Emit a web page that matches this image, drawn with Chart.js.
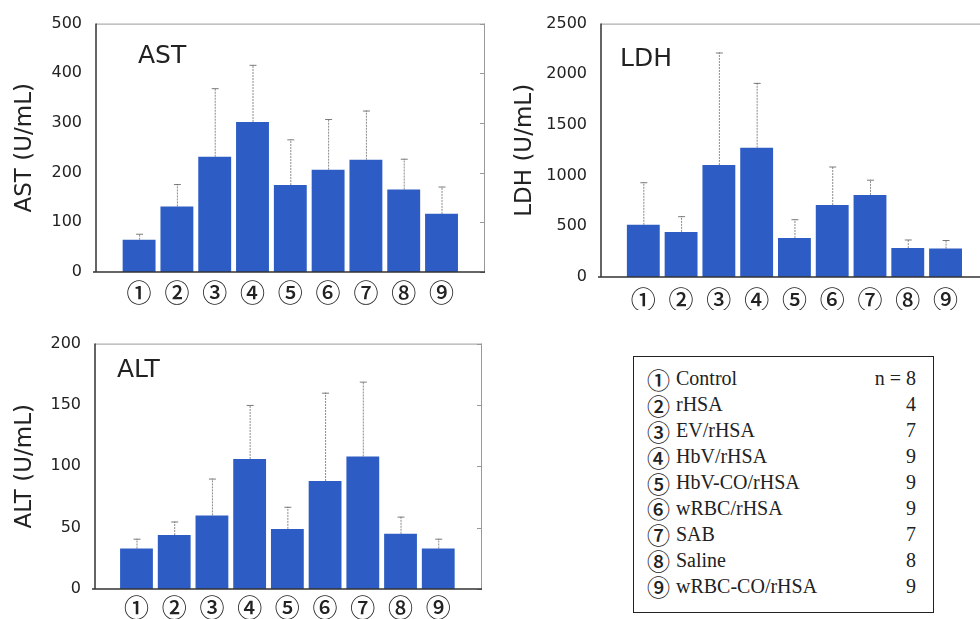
<!DOCTYPE html>
<html>
<head>
<meta charset="utf-8">
<script src="https://cdn.jsdelivr.net/npm/chart.js@4.4.1/dist/chart.umd.min.js"></script>
<style>
  html, body { margin: 0; padding: 0; background: #fff; width: 980px; height: 619px; overflow: hidden; }
  .box { position: absolute; }
  #legend {
    position: absolute; left: 633px; top: 356px; width: 299px; height: 246px;
    border: 1.5px solid #222; box-sizing: content-box;
    font-family: "Liberation Serif", "Times New Roman", serif; font-size: 20px; color: #222;
    padding-top: 9px;
  }
  #legend .row { display: flex; align-items: center; height: 25.9px; padding: 0 17px 0 13px; }
  #legend .c { font-family: "Noto Sans CJK JP", "DejaVu Sans", sans-serif; font-weight: 500; font-size: 23px; width: 29px; line-height: 24px; }
  #legend .name { flex: 1; }
  #legend .n { text-align: right; }
</style>
</head>
<body>
<div class="box" style="left:0;top:0;width:500px;height:310px"><canvas id="ast"></canvas></div>
<div class="box" style="left:500px;top:0;width:500px;height:310px"><canvas id="ldh"></canvas></div>
<div class="box" style="left:0;top:320px;width:500px;height:299px"><canvas id="alt"></canvas></div>
<div id="legend"></div>

<script>
// groups ①..⑨
const categories = ['①', '②', '③', '④', '⑤', '⑥', '⑦', '⑧', '⑨'];
const groupNames = ['Control', 'rHSA', 'EV/rHSA', 'HbV/rHSA', 'HbV-CO/rHSA', 'wRBC/rHSA', 'SAB', 'Saline', 'wRBC-CO/rHSA'];
const groupN = ['n = 8', '4', '7', '9', '9', '9', '7', '8', '9'];

// mean and SD
const astMean = [65, 132, 232, 302, 175, 206, 226, 166, 117];
const astSD   = [12, 45, 138, 115, 92, 102, 99, 62, 55];
const astTicks = [0, 100, 200, 300, 400, 500];

const ldhMean = [515, 445, 1105, 1275, 385, 710, 810, 285, 280];
const ldhSD   = [420, 155, 1110, 640, 185, 380, 150, 85, 85];
const ldhTicks = [0, 500, 1000, 1500, 2000, 2500];

const altMean = [33, 44, 60, 106, 49, 88, 108, 45, 33];
const altSD   = [8, 11, 30, 44, 18, 72, 61, 14, 8];
const altTicks = [0, 50, 100, 150, 200];

// legend box
const legend = document.getElementById('legend');
categories.forEach((c, i) => {
  const row = document.createElement('div');
  row.className = 'row';
  row.innerHTML = `<span class="c">${c}</span><span class="name">${groupNames[i]}</span><span class="n">${groupN[i]}</span>`;
  legend.appendChild(row);
});

// upper error bars (mean + SD)
const errorBars = {
  id: 'errorBars',
  afterDatasetsDraw(chart) {
    const ctx = chart.ctx;
    const y = chart.scales.y;
    const sd = chart.options.plugins.errorBars.sd;
    const meta = chart.getDatasetMeta(0);
    ctx.save();
    meta.data.forEach((bar, i) => {
      const top = y.getPixelForValue(chart.data.datasets[0].data[i].y + sd[i]);
      ctx.strokeStyle = 'rgba(110,110,110,0.8)';
      ctx.lineWidth = 1;
      ctx.setLineDash([2, 1]);
      ctx.beginPath();
      ctx.moveTo(bar.x + 0.5, bar.y);
      ctx.lineTo(bar.x + 0.5, top);
      ctx.stroke();
      ctx.setLineDash([]);
      ctx.strokeStyle = 'rgba(90,90,90,0.8)';
      ctx.beginPath();
      ctx.moveTo(bar.x - 3, top + 0.5);
      ctx.lineTo(bar.x + 4, top + 0.5);
      ctx.stroke();
    });
    ctx.restore();
  }
};

// box frame, inward ticks on right, panel name inside
const frame = {
  id: 'frame',
  afterDraw(chart) {
    const {ctx, chartArea: a} = chart;
    const o = chart.options.plugins.frame;
    ctx.save();
    ctx.strokeStyle = '#999';
    ctx.lineWidth = 1;
    ctx.beginPath();
    ctx.moveTo(a.left, a.top + 0.5);
    ctx.lineTo(a.right, a.top + 0.5);
    ctx.moveTo(a.right - 0.5, a.top);
    ctx.lineTo(a.right - 0.5, a.bottom);
    chart.scales.y.ticks.forEach(t => {
      const py = Math.round(chart.scales.y.getPixelForValue(t.value)) + 0.5;
      ctx.moveTo(a.right, py);
      ctx.lineTo(a.right - 5, py);
    });
    ctx.stroke();
    ctx.strokeStyle = '#333';
    ctx.lineWidth = 1.5;
    ctx.beginPath();
    ctx.moveTo(a.left, a.top);
    ctx.lineTo(a.left, a.bottom);
    ctx.moveTo(a.left - 3, a.bottom);
    ctx.lineTo(a.right, a.bottom);
    ctx.stroke();
    ctx.fillStyle = '#222';
    ctx.font = '25px "DejaVu Sans"';
    ctx.textBaseline = 'middle';
    ctx.fillText(o.label, a.left + o.dx, a.top + o.dy);
    ctx.restore();
  }
};

function makeChart(id, mean, sd, ticks, cfg) {
  new Chart(document.getElementById(id), {
    type: 'bar',
    data: {
      datasets: [{
        data: mean.map((v, i) => ({x: i + 1, y: v})),
        backgroundColor: 'rgb(45, 93, 196)',
        borderWidth: 0,
        barPercentage: 0.87,
        categoryPercentage: 1
      }]
    },
    options: {
      responsive: true,
      maintainAspectRatio: false,
      animation: false,
      layout: { padding: cfg.padding },
      plugins: {
        legend: { display: false },
        tooltip: { enabled: false },
        errorBars: { sd: sd },
        frame: { label: cfg.label, dx: cfg.dx, dy: cfg.dy }
      },
      scales: {
        x: {
          type: 'linear',
          offset: false,
          min: cfg.xmin,
          max: cfg.xmax,
          afterBuildTicks: s => { s.ticks = categories.map((c, i) => ({value: i + 1})); },
          afterFit: s => { s.height = cfg.xh; },
          grid: { display: false, drawTicks: false, offset: false },
          border: { display: false },
          ticks: {
            autoSkip: false,
            maxRotation: 0,
            padding: cfg.xpad,
            color: '#222',
            font: { family: '"Noto Sans CJK JP"', size: 25, weight: 500 },
            callback: v => categories[v - 1] || ''
          }
        },
        y: {
          min: 0,
          max: ticks[ticks.length - 1],
          afterBuildTicks: s => { s.ticks = ticks.map(v => ({value: v})); },
          afterFit: s => { s.width = cfg.yw; },
          grid: { display: false, drawTicks: false },
          border: { display: false },
          ticks: {
            padding: 14,
            color: '#222',
            font: { family: '"DejaVu Sans"', size: 16 },
            callback: v => String(v)
          },
          title: {
            display: true,
            text: cfg.title,
            color: '#222',
            padding: { top: 11, bottom: 0 },
            font: { family: '"DejaVu Sans"', size: 23 }
          }
        }
      }
    },
    plugins: [errorBars, frame]
  });
}

makeChart('ast', astMean, astSD, astTicks, {
  title: 'AST (U/mL)', label: 'AST', dx: 42, dy: 33,
  padding: { top: 18, right: 15, left: 0, bottom: 0 }, yw: 96, xh: 38, xpad: 5,
  xmin: -0.14, xmax: 10.15
});
makeChart('ldh', ldhMean, ldhSD, ldhTicks, {
  title: 'LDH (U/mL)', label: 'LDH', dx: 19, dy: 36,
  padding: { top: 21, right: 11, left: 0, bottom: 0 }, yw: 101, xh: 33, xpad: 7,
  xmin: -0.12, xmax: 10.15
});
makeChart('alt', altMean, altSD, altTicks, {
  title: 'ALT (U/mL)', label: 'ALT', dx: 22, dy: 27,
  padding: { top: 15, right: 18, left: 0, bottom: 0 }, yw: 95, xh: 30, xpad: 3,
  xmin: -0.1, xmax: 10.16
});
</script>
</body>
</html>
